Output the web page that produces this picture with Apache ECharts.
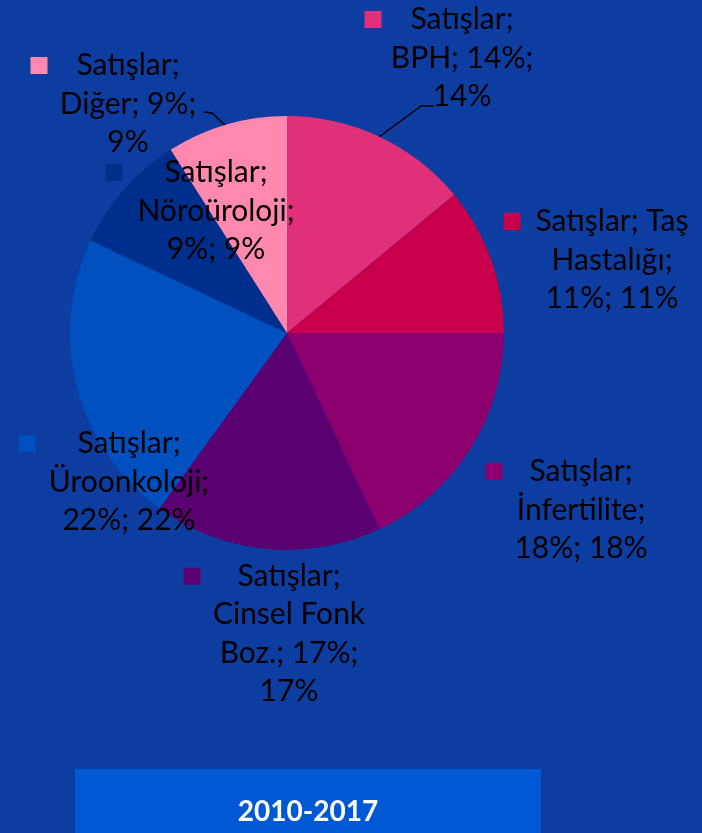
<!DOCTYPE html>
<html>
<head>
<meta charset="utf-8">
<title>Satışlar 2010-2017</title>
<style>
  body { margin: 0; background: #0E3DA1; }
  #chart { width: 702px; height: 833px; }
</style>
<script src="https://cdn.jsdelivr.net/npm/echarts@6/dist/echarts.min.js"></script>
</head>
<body>
<div id="chart"></div>
<script>
// data
var seriesName = 'Satışlar';
var categories = ['BPH', 'Taş Hastalığı', 'İnfertilite', 'Cinsel Fonk Boz.', 'Üroonkoloji', 'Nöroüroloji', 'Diğer'];
var values = [14, 11, 18, 17, 22, 9, 9];
var periodLabel = '2010-2017';

// styles / layout
var colors = ['#E0307A', '#C8004B', '#8B006E', '#5A0070', '#0050BF', '#002E8C', '#FF88AE'];
var wordsPerLine = [[1, 2, 1], [2, 1, 2], [1, 1, 2], [1, 2, 2, 1], [1, 1, 2], [1, 1, 2], [1, 2, 1]];
var labelX = [462, 612, 581, 289, 129, 216, 128];
var labelY = [58, 260, 510, 634, 482, 211, 104];
var markerGap = [29, 15, 27, 37, 42, 42, 29];
var leaderLines = [
  [[379, 137], [421, 106], [434, 106]],
  null, null, null, null, null,
  [[226, 126], [212, 113], [204, 112]]
];
var FONT = "Lato, sans-serif";

var chart = echarts.init(document.getElementById('chart'));

var rich = {};
colors.forEach(function (c, i) {
  rich['m' + i] = { width: 17, height: 17, backgroundColor: c, lineHeight: 38.5 };
  rich['g' + i] = { width: markerGap[i], lineHeight: 38.5 };
  rich['r' + i] = { width: markerGap[i] + 17, lineHeight: 38.5 };
});

function buildLabel(i) {
  var nameWords = categories[i].split(' ');
  nameWords[nameWords.length - 1] += ';';
  var tokens = [seriesName + ';'].concat(nameWords, [values[i] + '%;', values[i] + '%']);
  var lines = [];
  var k = 0;
  wordsPerLine[i].forEach(function (n) {
    lines.push(tokens.slice(k, k + n).join(' '));
    k += n;
  });
  lines[0] = '{m' + i + '|}{g' + i + '|}' + lines[0] + '{r' + i + '|}';
  return lines.join('\n');
}

chart.setOption({
  backgroundColor: '#0E3DA1',
  animation: false,
  graphic: [{
    type: 'group',
    left: 75,
    top: 769,
    children: [{
      type: 'rect',
      shape: { x: 0, y: 0, width: 466, height: 64 },
      style: { fill: '#0059D2' }
    }, {
      type: 'text',
      x: 233,
      y: 43,
      style: {
        text: periodLabel,
        fill: '#fff',
        font: 'bold 28px Lato, sans-serif',
        align: 'center',
        verticalAlign: 'middle'
      }
    }]
  }],
  series: [{
    name: seriesName,
    type: 'pie',
    center: [287, 333],
    radius: [0, 217],
    startAngle: 90,
    clockwise: true,
    color: colors,
    data: categories.map(function (name, i) {
      return {
        name: name,
        value: values[i],
        labelLine: { show: !!leaderLines[i] }
      };
    }),
    label: {
      show: true,
      position: 'outside',
      formatter: function (p) { return buildLabel(p.dataIndex); },
      color: '#000',
      fontSize: 30,
      fontFamily: FONT,
      lineHeight: 38.5,
      align: 'center',
      overflow: 'none',
      rich: rich
    },
    labelLine: {
      lineStyle: { color: '#000', width: 1.5 }
    },
    labelLayout: function (params) {
      var i = params.dataIndex;
      var out = { x: labelX[i], y: labelY[i], align: 'center', verticalAlign: 'middle' };
      if (leaderLines[i]) out.labelLinePoints = leaderLines[i];
      return out;
    },
    itemStyle: { borderWidth: 0 },
    emphasis: { disabled: true }
  }]
});
</script>
</body>
</html>
